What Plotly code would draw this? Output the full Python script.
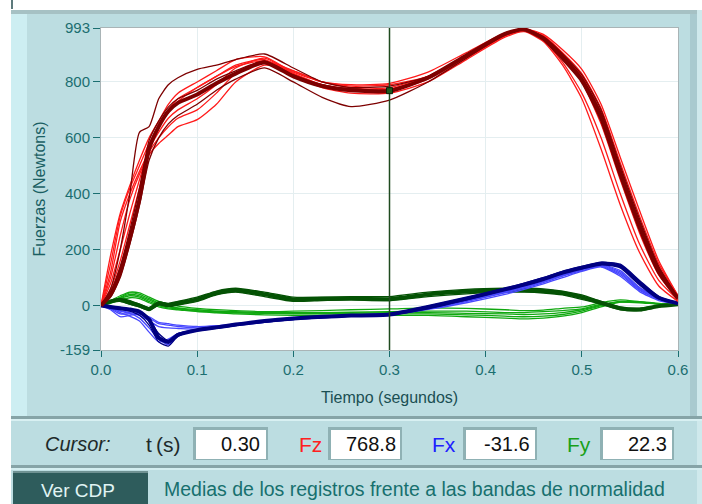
import plotly.graph_objects as go

W, H = 702, 504
ML, MR, MT, MB = 101, 24, 28, 154

# ---------------- data ----------------
T = [0, .01, .02, .03, .04, .05, .06, .07, .08, .10, .12, .14, .17, .20, .23,
     .26, .30, .34, .38, .42, .44, .46, .48, .50, .52, .54, .56, .58, .60]

# Fz (vertical force) - normality band curves (bright red)
fz_band_1 = [0, 180, 330, 430, 520, 600, 660, 720, 760, 800, 840, 880, 890, 835, 800, 790, 795, 835, 905, 975, 985, 950, 870, 760, 600, 400, 220, 90, 20]
fz_band_2 = [0, 120, 300, 400, 480, 550, 600, 640, 670, 700, 760, 830, 875, 840, 800, 785, 790, 820, 890, 965, 985, 960, 890, 800, 650, 450, 260, 110, 25]
fz_band_3 = [0, 80, 200, 330, 450, 560, 620, 670, 700, 740, 790, 850, 885, 830, 790, 775, 780, 820, 895, 970, 990, 965, 900, 820, 690, 490, 300, 140, 30]
fz_band_4 = [0, 100, 250, 380, 470, 540, 580, 610, 640, 665, 720, 800, 860, 840, 800, 780, 770, 810, 885, 965, 985, 965, 905, 830, 705, 510, 320, 150, 35]
fz_band_5 = [0, 150, 320, 420, 500, 580, 640, 690, 730, 780, 820, 860, 880, 825, 780, 760, 760, 800, 880, 960, 980, 945, 860, 740, 560, 360, 190, 70, 15]
fz_band_6 = [0, 60, 160, 290, 420, 560, 640, 700, 740, 780, 820, 855, 875, 830, 790, 770, 775, 815, 890, 968, 990, 970, 915, 845, 720, 530, 340, 160, 35]
# Fz individual records (dark red)
fz_rec_1 = [0, 60, 200, 400, 620, 640, 740, 790, 815, 845, 860, 880, 900, 850, 800, 780, 785, 820, 895, 972, 990, 960, 895, 815, 690, 490, 300, 135, 30]
fz_rec_2 = [0, 30, 100, 220, 360, 520, 600, 650, 680, 720, 770, 810, 850, 800, 745, 712, 735, 800, 885, 968, 988, 962, 900, 825, 700, 500, 310, 140, 30]
fz_rec_3 = [0, 50, 140, 270, 420, 590, 660, 710, 740, 770, 810, 840, 875, 825, 790, 775, 772, 815, 895, 975, 990, 960, 895, 815, 685, 485, 295, 130, 28]
# Fz mean (thick dark red)
fz_mean = [0, 40, 120, 240, 380, 560, 640, 695, 725, 755, 795, 830, 870, 820, 785, 770, 768, 815, 895, 972, 988, 955, 885, 805, 670, 470, 280, 120, 25]

# Fx (antero-posterior) band (bright blue)
fx_band_1 = [0, -15, -40, -35, -30, -45, -65, -70, -75, -80, -75, -68, -58, -48, -40, -35, -30, -12, 15, 45, 62, 82, 105, 125, 140, 110, 55, 22, 8]
fx_band_2 = [0, -8, -20, -28, -45, -80, -120, -140, -110, -90, -80, -70, -58, -47, -42, -38, -33, -10, 18, 50, 68, 88, 110, 130, 145, 120, 62, 25, 8]
fx_band_3 = [0, -12, -30, -30, -35, -55, -75, -80, -82, -85, -80, -72, -60, -50, -44, -38, -34, -14, 10, 40, 58, 78, 100, 122, 138, 105, 50, 18, 6]
fx_band_4 = [0, -10, -25, -38, -55, -95, -130, -120, -100, -88, -80, -70, -58, -47, -41, -36, -31, -11, 16, 48, 65, 86, 108, 128, 143, 115, 58, 22, 8]
fx_band_5 = [0, -6, -18, -25, -30, -40, -60, -65, -70, -75, -72, -66, -56, -46, -40, -34, -28, -8, 20, 52, 70, 90, 112, 132, 146, 125, 65, 25, 8]
# Fx records (navy)
fx_rec_1 = [0, -5, -12, -20, -35, -70, -130, -145, -110, -90, -82, -72, -60, -50, -44, -38, -33, -12, 20, 55, 72, 92, 115, 135, 150, 142, 85, 30, 8]
fx_rec_2 = [0, -6, -10, -15, -25, -50, -100, -125, -100, -85, -76, -66, -54, -44, -38, -33, -29, -2, 28, 62, 80, 100, 122, 140, 155, 148, 90, 32, 9]
# Fx mean (thick navy)
fx_mean = [0, -5, -10, -14, -22, -50, -115, -130, -105, -88, -78, -68, -55, -46, -40, -36, -32, -5, 25, 58, 75, 95, 118, 135, 150, 140, 80, 28, 8]

# Fy (medio-lateral) band (bright green)
fy_band_1 = [0, 15, 30, 45, 40, 25, 10, 0, -8, -15, -20, -22, -25, -25, -25, -24, -22, -20, -20, -25, -25, -22, -18, -12, 5, 12, 10, 5, 3]
fy_band_2 = [0, 10, 25, 35, 30, 15, 0, -8, -12, -20, -24, -26, -28, -28, -28, -27, -25, -25, -28, -30, -32, -30, -25, -15, 2, 15, 12, 6, 3]
fy_band_3 = [0, 18, 35, 48, 45, 30, 15, 5, -2, -10, -15, -18, -22, -20, -18, -15, -12, -8, -10, -15, -18, -16, -10, -5, 10, 20, 14, 8, 4]
fy_band_4 = [0, 8, 20, 28, 25, 10, -5, -12, -15, -22, -26, -30, -33, -35, -35, -35, -35, -35, -40, -45, -48, -45, -38, -25, -5, 12, 12, 6, 3]
fy_band_5 = [0, 12, 28, 40, 35, 20, 5, -5, -10, -18, -22, -25, -28, -30, -30, -30, -30, -30, -33, -38, -40, -38, -32, -20, 0, 14, 12, 6, 3]
# Fy records (dark green)
fy_rec_1 = [0, 18, 25, 18, 5, -8, 12, 8, 15, 30, 52, 62, 48, 30, 30, 32, 32, 48, 58, 62, 62, 60, 52, 38, 15, -5, -10, 0, 5]
fy_rec_2 = [0, 12, 15, 5, -5, -18, 2, -3, 2, 15, 38, 48, 32, 15, 18, 20, 18, 32, 42, 48, 48, 45, 38, 22, 5, -15, -18, -5, 5]
# Fy mean (thick dark green)
fy_mean = [0, 15, 20, 10, 0, -12, 8, 2, 8, 22, 45, 55, 40, 22, 24, 25, 23, 40, 50, 55, 55, 52, 45, 30, 10, -10, -14, -2, 5]

# cursor
cursor_t = 0.30
cursor_fz, cursor_fx, cursor_fy = 768.8, -31.6, 22.3

# axes
x_ticks = [0.0, 0.1, 0.2, 0.3, 0.4, 0.5, 0.6]
x_labels = ["0.0", "0.1", "0.2", "0.3", "0.4", "0.5", "0.6"]
y_ticks = [-159, 0, 200, 400, 600, 800, 993]
y_labels = ["-159", "0", "200", "400", "600", "800", "993"]

# ---------------- styles ----------------
RED, DRED = "#ff1a1a", "#7d0000"
BLUE, NAVY = "#4848ff", "#000080"
GREEN, DGREEN = "#10a810", "#045204"
TEAL = "#1b6e70"
PANEL = "#bcdde1"

fig = go.Figure()

def add(y, color, width):
    fig.add_trace(go.Scatter(x=T, y=y, mode="lines",
                             line=dict(color=color, width=width, shape="spline", smoothing=0.6),
                             hoverinfo="skip", showlegend=False))

for y in [fy_band_1, fy_band_2, fy_band_3, fy_band_4, fy_band_5]:
    add(y, GREEN, 1.3)
for y in [fy_rec_1, fy_rec_2]:
    add(y, DGREEN, 1.3)
add(fy_mean, DGREEN, 4)

for y in [fx_band_1, fx_band_2, fx_band_3, fx_band_4, fx_band_5]:
    add(y, BLUE, 1.3)
for y in [fx_rec_1, fx_rec_2]:
    add(y, NAVY, 1.3)
add(fx_mean, NAVY, 4)

for y in [fz_band_1, fz_band_2, fz_band_3, fz_band_4, fz_band_5, fz_band_6]:
    add(y, RED, 1.3)
for y in [fz_rec_1, fz_rec_2, fz_rec_3]:
    add(y, DRED, 1.3)
add(fz_mean, DRED, 4)

# cursor line and point
fig.add_trace(go.Scatter(x=[cursor_t, cursor_t], y=[-159, 993], mode="lines",
                         line=dict(color="#1f4a1f", width=1.5), hoverinfo="skip", showlegend=False))
fig.add_trace(go.Scatter(x=[cursor_t], y=[cursor_fz], mode="markers",
                         marker=dict(symbol="square", size=6, color="#1d5a1d",
                                     line=dict(color="#0a200a", width=1)),
                         hoverinfo="skip", showlegend=False))

# --------------- panel helpers (pixel -> paper) ---------------
PW, PH = W - ML - MR, H - MT - MB

def px(xp):
    return (xp - ML) / PW

def py(yp):
    return (H - MB - yp) / PH

shapes = []

def rect(x0, y0, x1, y1, fill, line=None, lw=0, layer="below"):
    shapes.append(dict(type="rect", xref="paper", yref="paper",
                       x0=px(x0), x1=px(x1), y0=py(y1), y1=py(y0),
                       fillcolor=fill, line=dict(color=line or fill, width=lw), layer=layer))

# white outer strips
rect(0, 0, W, 10, "white")
rect(0, 0, 11, H, "white")
rect(11, 0, 13, 9, "#5d7a7c")
# top border of the panel
rect(11, 10, W, 14, "#a6c1c4")
# lighter left strip
rect(11, 14, 27, 417, "#cdeef2")
# right border strip
rect(690, 14, 697, 417, "#a9cacf")
rect(697, 10, W, 504, "#cfe9ec")
# separator between graph panel and cursor bar
rect(11, 416, W, 419, "#86a4a7")
rect(11, 419, W, 421, "#d8f0f2")
# separator between cursor bar and bottom row
rect(11, 465, W, 468, "#86a4a7")
rect(11, 468, W, 470, "#d4eef0")
# bottom button
rect(13, 471, 148, 504, "#2e5c5c")
rect(13, 471, 148, 473, "#6f9293")

# value boxes
boxes = [(193, 268), (328, 402), (463, 537), (600, 674)]
for x0, x1 in boxes:
    rect(x0, 427, x1, 460, "#8fb1b4")
    rect(x0 + 3, 430, x1 - 2, 459, "white")

annotations = []

def text(s, xp, yp, color, size, anchor="center", family="Liberation Sans"):
    annotations.append(dict(text=s, xref="paper", yref="paper", x=px(xp), y=py(yp),
                            xanchor=anchor, yanchor="middle", showarrow=False,
                            font=dict(family=family, size=size, color=color)))

text("<i>Cursor:</i>", 78, 444, "#1e2a2a", 20)
text("t&#8201;(s)", 163, 444, "#1e2a2a", 21)
text("Fz", 310, 444, "#ff2020", 21)
text("Fx", 444, 444, "#2020ff", 21)
text("Fy", 579, 444, "#18a018", 21)
text(f"{cursor_t:.2f}", 262, 444, "#111111", 20, anchor="right")
text(f"{cursor_fz:.1f}", 398, 444, "#111111", 20, anchor="right")
text(f"{cursor_fx:.1f}", 532, 444, "#111111", 20, anchor="right")
text(f"{cursor_fy:.1f}", 669, 444, "#111111", 20, anchor="right")
text("Ver CDP", 78, 490, "#e0f4f4", 19)
text("Medias de los registros frente a las bandas de normalidad", 162, 489, "#17706e", 19.5, anchor="left")

fig.update_layout(
    width=W, height=H, autosize=False,
    margin=dict(l=ML, r=MR, t=MT, b=MB, pad=0),
    paper_bgcolor=PANEL, plot_bgcolor="white",
    font=dict(family="Liberation Sans", color=TEAL),
    shapes=shapes, annotations=annotations,
    xaxis=dict(range=[0, 0.6], tickvals=x_ticks, ticktext=x_labels,
               showgrid=True, gridcolor="#e4eef0", gridwidth=1, zeroline=False,
               showline=True, linecolor="#a9b4b6", linewidth=1, mirror=True,
               ticks="outside", ticklen=6, tickcolor=TEAL, tickwidth=1,
               tickfont=dict(size=15, color=TEAL),
               title=dict(text="Tiempo (segundos)", standoff=14,
                          font=dict(size=16, color="#1a4f53"))),
    yaxis=dict(range=[-159, 993], tickvals=y_ticks, ticktext=y_labels,
               showgrid=True, gridcolor="#e4eef0", gridwidth=1, zeroline=False,
               showline=True, linecolor="#a9b4b6", linewidth=1, mirror=True,
               ticks="outside", ticklen=7, tickcolor=TEAL, tickwidth=1,
               tickfont=dict(size=15, color=TEAL),
               title=dict(text="Fuerzas (Newtons)", standoff=10,
                          font=dict(size=16, color="#1a5f63"))),
)

fig.write_html("out.html")
